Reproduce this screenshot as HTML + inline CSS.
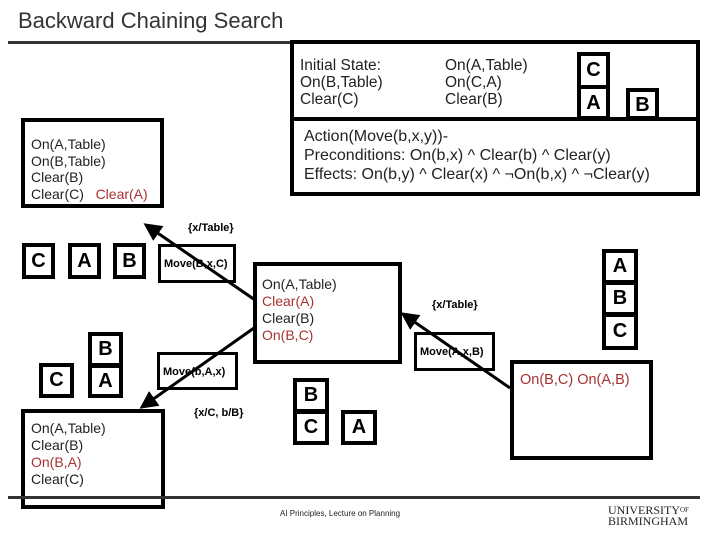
<!DOCTYPE html>
<html><head><meta charset="utf-8"><style>
body{margin:0;width:720px;height:540px;background:#fff;position:relative;overflow:hidden;font-family:"Liberation Sans",sans-serif;color:#222}
.a{position:absolute}
.bx{position:absolute;border:4px solid #000;box-sizing:border-box;background:#fff}
.blk{position:absolute;border:4px solid #000;box-sizing:border-box;font-weight:bold;font-size:20px;text-align:center;background:#fff;color:#000}
.t{font-size:14px;line-height:17px}
.r{color:#a83232}
.lb{position:absolute;font-size:11px;font-weight:bold;color:#000}
.mv{position:absolute;border:3px solid #000;box-sizing:border-box;font-size:11px;font-weight:bold;background:#fff;color:#000;padding-top:11px;padding-left:3px}
</style></head><body>
<div class="a" style="left:18px;top:8px;font-size:22px;color:#333">Backward Chaining Search</div>
<div class="a" style="left:8px;top:41px;width:692px;height:3px;background:#333"></div>

<div class="bx" style="left:290px;top:40px;width:410px;height:156px"></div>
<div class="a" style="left:290px;top:117px;width:410px;height:4px;background:#000"></div>
<div class="a t" style="left:300px;top:57px;font-size:15.5px">Initial State:<br>On(B,Table)<br>Clear(C)</div>
<div class="a t" style="left:445px;top:57px;font-size:15.5px">On(A,Table)<br>On(C,A)<br>Clear(B)</div>
<div class="blk" style="left:577px;top:52px;width:33px;height:37px;line-height:29px">C</div>
<div class="blk" style="left:577px;top:85px;width:33px;height:35px;line-height:29px">A</div>
<div class="blk" style="left:626px;top:88px;width:33px;height:32px;line-height:26px">B</div>
<div class="a t" style="left:304px;top:127px;font-size:16px;line-height:19px">Action(Move(b,x,y))-<br>Preconditions: On(b,x) ^ Clear(b) ^ Clear(y)<br>Effects: On(b,y) ^ Clear(x) ^ ¬On(b,x) ^ ¬Clear(y)</div>

<div class="bx" style="left:21px;top:118px;width:143px;height:90px"></div>
<div class="a t" style="left:31px;top:136px;font-size:14px;line-height:16.5px">On(A,Table)<br>On(B,Table)<br>Clear(B)<br>Clear(C) &nbsp;&nbsp;<span class="r">Clear(A)</span></div>

<div class="lb" style="left:188px;top:222px">{x/Table}</div>
<div class="blk" style="left:22px;top:243px;width:33px;height:36px;line-height:28px">C</div>
<div class="blk" style="left:68px;top:243px;width:33px;height:36px;line-height:28px">A</div>
<div class="blk" style="left:113px;top:243px;width:33px;height:36px;line-height:28px">B</div>
<div class="mv" style="left:158px;top:244px;width:78px;height:39px">Move(B,x,C)</div>

<div class="bx" style="left:253px;top:262px;width:149px;height:102px"></div>
<div class="a t" style="left:262px;top:276px">On(A,Table)<br><span class="r">Clear(A)</span><br>Clear(B)<br><span class="r">On(B,C)</span></div>

<div class="blk" style="left:88px;top:332px;width:35px;height:35px;line-height:27px">B</div>
<div class="blk" style="left:88px;top:364px;width:35px;height:34px;line-height:26px">A</div>
<div class="blk" style="left:39px;top:363px;width:35px;height:35px;line-height:27px">C</div>
<div class="mv" style="left:157px;top:352px;width:81px;height:38px">Move(b,A,x)</div>
<div class="lb" style="left:194px;top:407px">{x/C, b/B}</div>

<div class="bx" style="left:21px;top:409px;width:144px;height:100px"></div>
<div class="a t" style="left:31px;top:420px">On(A,Table)<br>Clear(B)<br><span class="r">On(B,A)</span><br>Clear(C)</div>

<div class="blk" style="left:293px;top:378px;width:36px;height:35px;line-height:27px">B</div>
<div class="blk" style="left:293px;top:410px;width:36px;height:35px;line-height:27px">C</div>
<div class="blk" style="left:341px;top:410px;width:36px;height:35px;line-height:27px">A</div>

<div class="lb" style="left:432px;top:299px">{x/Table}</div>
<div class="mv" style="left:414px;top:332px;width:81px;height:39px">Move(A,x,B)</div>

<div class="blk" style="left:602px;top:249px;width:36px;height:35px;line-height:27px">A</div>
<div class="blk" style="left:602px;top:281px;width:36px;height:35px;line-height:27px">B</div>
<div class="blk" style="left:602px;top:313px;width:36px;height:37px;line-height:29px">C</div>
<div class="bx" style="left:510px;top:360px;width:143px;height:100px"></div>
<div class="a t r" style="left:520px;top:372px;font-size:14.5px">On(B,C) On(A,B)</div>

<svg class="a" style="left:0;top:0" width="720" height="540">
<defs><marker id="m" markerWidth="6" markerHeight="6" refX="5" refY="3" orient="auto" markerUnits="strokeWidth"><path d="M0,0 L6,3 L0,6 z" fill="#000"/></marker></defs>
<g stroke="#000" stroke-width="3.5" fill="none">
<line x1="255" y1="300" x2="146" y2="225" marker-end="url(#m)" stroke-width="3"/>
<line x1="254" y1="328" x2="142" y2="407" marker-end="url(#m)" stroke-width="3"/>
<line x1="510" y1="388" x2="403" y2="314" marker-end="url(#m)" stroke-width="3"/>
</g>
</svg>

<div class="a" style="left:8px;top:496px;width:692px;height:3px;background:#333"></div>
<div class="a" style="left:280px;top:509px;font-size:8px;color:#222">AI Principles, Lecture on Planning</div>
<div class="a" style="left:608px;top:505px;font-family:'Liberation Serif',serif;font-size:12px;line-height:11px;color:#222">UNIVERSITY<span style="font-size:7px;vertical-align:top">OF</span><br>BIRMINGHAM</div>
</body></html>
